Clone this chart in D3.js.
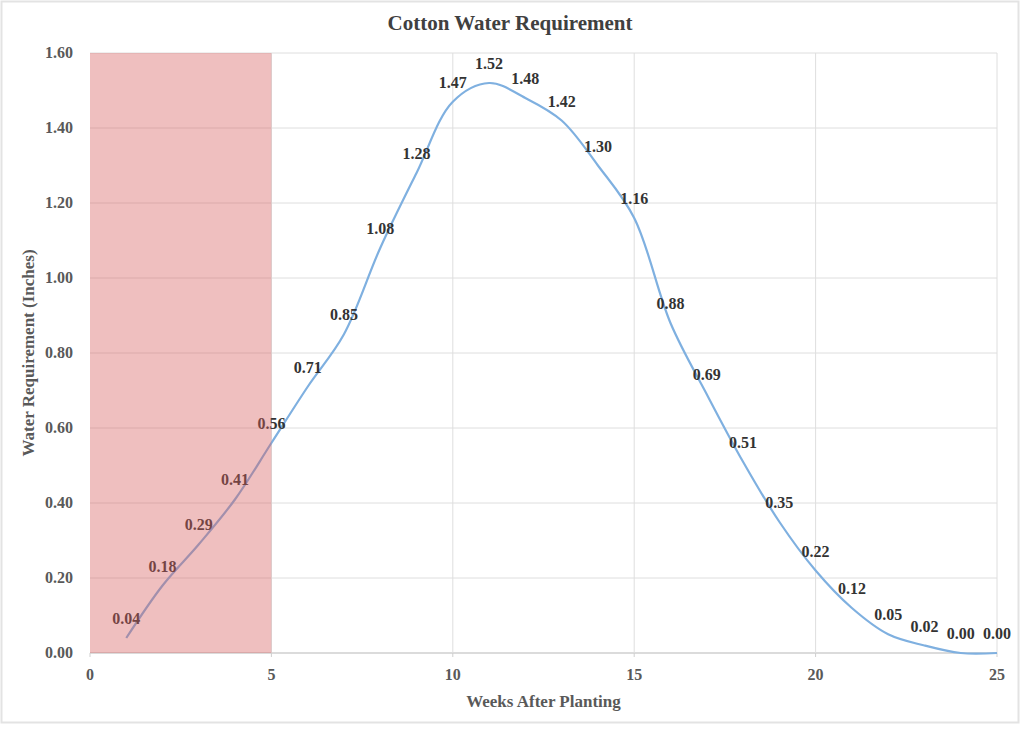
<!DOCTYPE html>
<html>
<head>
<meta charset="utf-8">
<script src="https://cdn.jsdelivr.net/npm/d3@7"></script>
<style>
  body { margin: 0; background: #fff; }
  text { font-family: "Liberation Serif", "DejaVu Serif", serif; }
</style>
</head>
<body>
<svg id="chart"></svg>
<script>
// Cotton water requirement by week
const weeks = [1, 2, 3, 4, 5, 6, 7, 8, 9, 10, 11, 12, 13, 14, 15, 16, 17, 18, 19, 20, 21, 22, 23, 24, 25];
const water = [0.04, 0.18, 0.29, 0.41, 0.56, 0.71, 0.85, 1.08, 1.28, 1.47, 1.52, 1.48, 1.42, 1.30, 1.16, 0.88, 0.69, 0.51, 0.35, 0.22, 0.12, 0.05, 0.02, 0.00, 0.00];
const xTicks = [0, 5, 10, 15, 20, 25];
const yTicks = [0, 0.2, 0.4, 0.6, 0.8, 1.0, 1.2, 1.4, 1.6];
const band = [0, 5];

const width = 1024, height = 730;
const margin = { top: 53, right: 27, bottom: 77, left: 90 };

const svg = d3.select("#chart")
    .attr("width", width)
    .attr("height", height);

// outer frame
svg.append("rect")
    .attr("x", 1.5).attr("y", 1.5)
    .attr("width", 1017).attr("height", 721)
    .attr("fill", "none")
    .attr("stroke", "#e3e3e3")
    .attr("stroke-width", 2);

const x = d3.scaleLinear().domain([0, 25]).range([margin.left, width - margin.right]);
const y = d3.scaleLinear().domain([0, 1.6]).range([height - margin.bottom, margin.top]);

// grid
svg.append("g")
    .selectAll("line.h")
    .data(yTicks)
    .enter().append("line")
    .attr("x1", x(0)).attr("x2", x(25))
    .attr("y1", d => y(d)).attr("y2", d => y(d))
    .attr("stroke", d => d === 0 ? "#cfcfcf" : "#dedede")
    .attr("stroke-width", d => d === 0 ? 1.5 : 1);

svg.append("g")
    .selectAll("line.v")
    .data(xTicks.filter(d => d > 0))
    .enter().append("line")
    .attr("x1", d => x(d)).attr("x2", d => x(d))
    .attr("y1", y(0)).attr("y2", y(1.6))
    .attr("stroke", "#dedede");

// x tick marks
svg.append("g")
    .selectAll("line.t")
    .data(xTicks)
    .enter().append("line")
    .attr("x1", d => x(d)).attr("x2", d => x(d))
    .attr("y1", y(0)).attr("y2", y(0) + 4)
    .attr("stroke", "#cfcfcf");

// tick labels
svg.append("g")
    .selectAll("text")
    .data(yTicks)
    .enter().append("text")
    .attr("x", x(0) - 17)
    .attr("y", d => y(d) + 5)
    .attr("text-anchor", "end")
    .style("font-size", "16px")
    .style("font-weight", "bold")
    .style("fill", "#595959")
    .text(d => d.toFixed(2));

svg.append("g")
    .selectAll("text")
    .data(xTicks)
    .enter().append("text")
    .attr("x", d => x(d))
    .attr("y", y(0) + 27)
    .attr("text-anchor", "middle")
    .style("font-size", "16px")
    .style("font-weight", "bold")
    .style("fill", "#595959")
    .text(d => d);

// line
const pts = weeks.map((w, i) => [w, water[i]]);
const line = d3.line()
    .x(d => x(d[0]))
    .y(d => y(d[1]))
    .curve(d3.curveCatmullRom.alpha(0.5));

svg.append("path")
    .datum(pts)
    .attr("d", line)
    .attr("fill", "none")
    .attr("stroke", "#7fb0e0")
    .attr("stroke-width", 2.2);

// data labels
svg.append("g")
    .selectAll("text")
    .data(pts)
    .enter().append("text")
    .attr("x", d => x(d[0]))
    .attr("y", d => y(d[1]) - 14)
    .attr("text-anchor", "middle")
    .style("font-size", "16px")
    .style("font-weight", "bold")
    .style("fill", "#333333")
    .text(d => d[1].toFixed(2));

// shaded band on top
svg.append("rect")
    .attr("x", x(band[0]))
    .attr("y", y(1.6))
    .attr("width", x(band[1]) - x(band[0]))
    .attr("height", y(0) - y(1.6))
    .attr("fill", "#d65f5f")
    .attr("opacity", 0.4);

// titles
svg.append("text")
    .attr("x", 510).attr("y", 30)
    .attr("text-anchor", "middle")
    .style("font-size", "21px")
    .style("font-weight", "bold")
    .style("fill", "#404040")
    .text("Cotton Water Requirement");

svg.append("text")
    .attr("x", (x(0) + x(25)) / 2).attr("y", 707)
    .attr("text-anchor", "middle")
    .style("font-size", "17px")
    .style("font-weight", "bold")
    .style("fill", "#595959")
    .text("Weeks After Planting");

svg.append("text")
    .attr("transform", `translate(34,${(y(0) + y(1.6)) / 2}) rotate(-90)`)
    .attr("text-anchor", "middle")
    .style("font-size", "17px")
    .style("font-weight", "bold")
    .style("fill", "#595959")
    .text("Water Requirement (Inches)");
</script>
</body>
</html>
